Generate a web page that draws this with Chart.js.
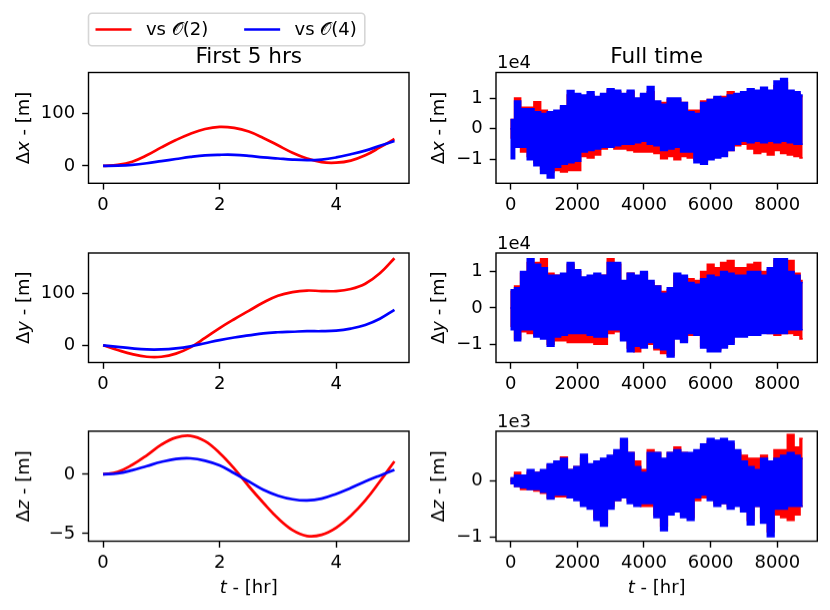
<!DOCTYPE html>
<html>
<head>
<meta charset="utf-8">
<script src="https://cdn.jsdelivr.net/npm/chart.js@4"></script>
<style>
  html, body { margin: 0; background: #fff; }
  body { position: relative; width: 830px; height: 610px; overflow: hidden; }
  .panel { position: absolute; }
</style>
</head>
<body>
<script>
// first 5 hours, sampled every 0.25 hr
const tShort = [0, 0.25, 0.5, 0.75, 1, 1.25, 1.5, 1.75, 2, 2.25, 2.5, 2.75, 3, 3.25, 3.5, 3.75, 4, 4.25, 4.5, 4.75, 5];
const dxShortO2 = [0, 2, 8, 20, 35, 49, 61, 70, 74, 72, 65, 53, 39, 25, 14, 7, 6, 10, 20, 35, 51];
const dxShortO4 = [0, 0.5, 2, 5, 9, 13, 17, 20, 21, 21, 19, 16, 14, 12, 11, 12, 16, 22, 29, 38, 47];
const dyShortO2 = [0, -9, -17, -22, -22, -16, -4, 14, 33, 50, 66, 82, 95, 102, 105, 104, 104, 108, 118, 138, 167];
const dyShortO4 = [0, -3, -6, -8, -8, -6, -2, 4, 10, 15, 19, 23, 25, 26, 27, 27, 28, 32, 39, 51, 68];
const dzShortO2 = [0, 0.2, 0.8, 1.6, 2.5, 3.1, 3.25, 2.8, 1.8, 0.5, -1.0, -2.4, -3.7, -4.7, -5.2, -5.1, -4.5, -3.5, -2.2, -0.6, 1.1];
const dzShortO4 = [0, 0.08, 0.35, 0.7, 1.05, 1.3, 1.35, 1.15, 0.75, 0.1, -0.6, -1.3, -1.8, -2.1, -2.2, -2.05, -1.65, -1.15, -0.6, -0.1, 0.38];

// full year: upper / lower edge of the oscillation band
// dx, dy in units of 1e4 m, dz in units of 1e3 m
const tFull = [0, 40, 200, 400, 600, 800, 1000, 1200, 1400, 1600, 1800, 2000, 2200, 2400, 2600, 2800, 3000, 3200, 3400, 3600, 3800, 4000, 4200, 4400, 4600, 4800, 5000, 5200, 5400, 5600, 5800, 6000, 6200, 6400, 6600, 6800, 7000, 7200, 7400, 7600, 7800, 8000, 8200, 8400, 8600, 8760];
const dxFullO4Hi = [0, 0.3, 0.9, 0.65, 0.65, 0.55, 0.5, 0.55, 0.6, 0.75, 1.24, 1.15, 1.1, 1.2, 1.05, 1.15, 1.3, 1.25, 1.15, 1.25, 1.0, 1.15, 1.37, 0.9, 0.8, 1.0, 1.0, 0.85, 0.55, 0.5, 0.85, 0.95, 1.05, 1.0, 1.1, 1.15, 1.2, 1.3, 1.25, 1.35, 1.25, 1.55, 1.63, 1.25, 1.2, 1.1];
const dxFullO4Lo = [0, -0.97, -0.6, -0.6, -1.0, -1.2, -1.45, -1.6, -1.25, -1.15, -1.1, -1.05, -0.75, -0.7, -0.65, -0.6, -0.6, -0.55, -0.5, -0.5, -0.45, -0.4, -0.5, -0.55, -0.7, -0.65, -0.6, -0.75, -0.75, -1.1, -1.15, -1.0, -0.95, -0.9, -0.7, -0.5, -0.4, -0.45, -0.4, -0.45, -0.4, -0.45, -0.4, -0.45, -0.5, -0.5];
const dxFullO2Hi = [0, 0.3, 1.0, 0.7, 0.7, 0.88, 0.6, 0.5, 0.55, 0.7, 1.1, 1.1, 1.05, 1.1, 1.0, 1.1, 1.25, 1.2, 1.1, 1.2, 0.95, 1.1, 1.2, 0.85, 0.85, 0.95, 0.95, 0.85, 0.6, 0.6, 0.9, 0.95, 1.0, 1.05, 1.2, 1.1, 1.1, 1.2, 1.2, 1.25, 1.2, 1.4, 1.5, 1.2, 1.15, 1.05];
const dxFullO2Lo = [0, -0.3, -0.6, -0.75, -0.9, -1.1, -1.3, -1.4, -1.35, -1.4, -1.35, -1.35, -0.9, -0.95, -0.85, -0.65, -0.6, -0.65, -0.65, -0.7, -0.75, -0.75, -0.75, -0.8, -0.97, -0.9, -1.0, -0.9, -0.95, -1.0, -1.05, -0.95, -0.9, -0.85, -0.7, -0.55, -0.5, -0.65, -0.8, -0.75, -0.85, -0.7, -0.8, -0.85, -0.9, -0.95];
const dyFullO4Hi = [0, 0.5, 0.55, 1.0, 1.35, 1.2, 1.1, 0.9, 0.9, 0.95, 1.25, 1.05, 0.85, 0.9, 0.95, 0.9, 1.25, 1.25, 0.75, 0.95, 0.9, 1.0, 0.75, 0.6, 0.4, 0.55, 0.95, 0.9, 0.7, 0.65, 0.8, 0.9, 0.85, 1.0, 0.95, 0.9, 0.9, 1.0, 1.0, 0.9, 1.1, 1.35, 1.35, 1.0, 0.9, 0.7];
const dyFullO4Lo = [0, -0.6, -0.9, -0.6, -0.6, -0.8, -0.85, -1.05, -0.8, -0.75, -0.7, -0.7, -0.7, -0.75, -0.8, -0.8, -0.6, -0.6, -0.9, -1.2, -1.05, -1.1, -0.95, -1.1, -1.15, -1.35, -0.85, -0.95, -0.7, -0.75, -1.1, -1.2, -1.2, -1.1, -1.0, -0.8, -0.8, -0.75, -0.75, -0.7, -0.7, -0.7, -0.7, -0.6, -0.6, -0.6];
const dyFullO2Hi = [0, 0.45, 0.6, 0.95, 1.25, 1.25, 1.35, 0.95, 0.9, 0.9, 1.2, 1.0, 0.8, 0.85, 0.9, 0.9, 1.35, 1.2, 0.7, 0.95, 0.85, 0.95, 0.7, 0.6, 0.45, 0.5, 0.9, 0.85, 0.8, 0.75, 1.0, 1.2, 1.1, 1.25, 1.3, 1.1, 1.1, 1.2, 1.25, 1.0, 1.05, 1.3, 1.3, 1.3, 0.95, 0.75];
const dyFullO2Lo = [0, -0.5, -0.85, -0.65, -0.7, -0.75, -0.8, -1.0, -0.9, -0.9, -0.95, -0.95, -0.95, -0.95, -1.0, -1.0, -0.7, -0.65, -0.85, -1.1, -1.2, -1.0, -1.0, -1.15, -1.25, -1.3, -0.8, -0.9, -0.75, -0.7, -1.05, -1.1, -1.15, -1.05, -0.95, -0.75, -0.75, -0.7, -0.7, -0.65, -0.7, -0.75, -0.7, -0.7, -0.75, -0.85];
const dzFullO4Hi = [0, 0.05, 0.1, 0.1, 0.2, 0.15, 0.2, 0.3, 0.35, 0.4, 0.2, 0.25, 0.47, 0.3, 0.35, 0.4, 0.45, 0.55, 0.75, 0.5, 0.25, 0.15, 0.5, 0.5, 0.4, 0.5, 0.55, 0.5, 0.5, 0.55, 0.65, 0.75, 0.72, 0.75, 0.7, 0.55, 0.35, 0.25, 0.2, 0.4, 0.35, 0.4, 0.45, 0.5, 0.45, 0.4];
const dzFullO4Lo = [0, -0.05, -0.1, -0.12, -0.15, -0.15, -0.2, -0.32, -0.25, -0.25, -0.3, -0.35, -0.45, -0.5, -0.7, -0.8, -0.5, -0.35, -0.3, -0.4, -0.45, -0.4, -0.4, -0.65, -0.88, -0.6, -0.55, -0.65, -0.7, -0.3, -0.25, -0.35, -0.45, -0.4, -0.5, -0.45, -0.55, -0.78, -0.45, -0.75, -0.99, -0.5, -0.5, -0.45, -0.45, -0.45];
const dzFullO2Hi = [0, 0.05, 0.15, 0.1, 0.15, 0.15, 0.18, 0.28, 0.3, 0.42, 0.2, 0.25, 0.4, 0.28, 0.3, 0.35, 0.4, 0.5, 0.7, 0.5, 0.35, 0.2, 0.55, 0.5, 0.35, 0.5, 0.6, 0.5, 0.45, 0.5, 0.6, 0.7, 0.7, 0.7, 0.65, 0.5, 0.45, 0.4, 0.4, 0.45, 0.35, 0.55, 0.55, 0.82, 0.6, 0.75];
const dzFullO2Lo = [0, -0.05, -0.1, -0.15, -0.15, -0.18, -0.22, -0.3, -0.28, -0.28, -0.3, -0.3, -0.4, -0.45, -0.65, -0.75, -0.45, -0.35, -0.3, -0.35, -0.4, -0.45, -0.45, -0.6, -0.8, -0.55, -0.5, -0.6, -0.65, -0.35, -0.3, -0.3, -0.4, -0.4, -0.45, -0.4, -0.5, -0.7, -0.45, -0.65, -0.9, -0.6, -0.65, -0.7, -0.6, -0.45];

// tick labels
const xTicksShort = [0, 2, 4];
const xTicksFull = [0, 2000, 4000, 6000, 8000];
const yTicksShortXY = [0, 100];
const yTicksShortZ = [-5, 0];
const yTicksFullXY = [-1, 0, 1];
const yTicksFullZ = [-1, 0];

const labelO2 = 'vs \u{1D4AA}(2)';
const labelO4 = 'vs \u{1D4AA}(4)';
const RED = '#ff0000';
const BLUE = '#0000ff';
const FAMILY = '"DejaVu Sans", sans-serif';

Chart.defaults.font.family = FAMILY;
Chart.defaults.font.size = 18;
Chart.defaults.color = '#000';

const pts = (xs, ys) => xs.map((x, i) => ({ x: x, y: ys[i] }));
const minus = v => String(v).replace('-', '\u2212');

// draws text made of [text, style] pieces centred on (x, y)
function drawPieces(ctx, pieces, x, y, angle) {
  ctx.save();
  ctx.translate(x, y);
  ctx.rotate(angle);
  ctx.textAlign = 'left';
  ctx.textBaseline = 'alphabetic';
  let total = 0;
  pieces.forEach(p => { ctx.font = p[1] + ' 18px ' + FAMILY; total += ctx.measureText(p[0]).width; });
  let cx = -total / 2;
  pieces.forEach(p => {
    ctx.font = p[1] + ' 18px ' + FAMILY;
    ctx.fillText(p[0], cx, 0);
    cx += ctx.measureText(p[0]).width;
  });
  ctx.restore();
}

// matplotlib-like frame, titles, axis labels and legend
const mplDecor = {
  id: 'mplDecor',
  afterDraw(chart, args, o) {
    const ctx = chart.ctx, a = chart.chartArea;
    ctx.save();
    ctx.strokeStyle = '#000';
    ctx.lineWidth = 1.4;
    ctx.strokeRect(a.left, a.top, a.right - a.left, a.bottom - a.top);
    ctx.fillStyle = '#000';
    if (o.title) {
      ctx.font = '21.6px ' + FAMILY;
      ctx.textAlign = 'center';
      ctx.textBaseline = 'alphabetic';
      ctx.fillText(o.title, (a.left + a.right) / 2, a.top - 9.2);
    }
    if (o.offset) {
      ctx.font = '18px ' + FAMILY;
      ctx.textAlign = 'left';
      ctx.textBaseline = 'alphabetic';
      ctx.fillText(o.offset, a.left + 1, a.top - 4.5);
    }
    if (o.ylabel) drawPieces(ctx, o.ylabel, a.left - o.ylabelGap, (a.top + a.bottom) / 2, -Math.PI / 2);
    if (o.xlabel) drawPieces(ctx, o.xlabel, (a.left + a.right) / 2, a.bottom + 51.2, 0);
    if (o.legend) {
      const x0 = a.left, y0 = a.top - 59.2, h = 32.4, cy = y0 + h / 2;
      ctx.font = '18px ' + FAMILY;
      const items = chart.data.datasets;
      let w = 7;
      items.forEach((d, i) => { w += 36 + 14.4 + ctx.measureText(d.label).width + (i < items.length - 1 ? 36 : 0); });
      w += 8;
      ctx.beginPath();
      ctx.roundRect(x0, y0, w, h, 3.5);
      ctx.fillStyle = 'rgba(255,255,255,0.8)';
      ctx.fill();
      ctx.strokeStyle = '#d6d6d6';
      ctx.lineWidth = 1.6;
      ctx.stroke();
      let px = x0 + 7;
      items.forEach(d => {
        ctx.strokeStyle = d.borderColor;
        ctx.lineWidth = 2.7;
        ctx.beginPath();
        ctx.moveTo(px, cy);
        ctx.lineTo(px + 36, cy);
        ctx.stroke();
        ctx.fillStyle = '#000';
        ctx.textAlign = 'left';
        ctx.textBaseline = 'middle';
        ctx.fillText(d.label, px + 50.4, cy + 1);
        px += 50.4 + ctx.measureText(d.label).width + 36;
      });
    }
    ctx.restore();
  }
};

function lineSet(label, xs, ys, color, order) {
  return {
    label: label, data: pts(xs, ys), borderColor: color, backgroundColor: color,
    borderWidth: 2.7, pointRadius: 0, tension: 0.4,
    fill: false, order: order
  };
}

function bandSets(label, xs, hi, lo, color, order) {
  return [
    { label: label, data: pts(xs, hi), borderColor: color, backgroundColor: color,
      borderWidth: 1.6, pointRadius: 0, stepped: 'middle', fill: '+1', order: order },
    { label: label, data: pts(xs, lo), borderColor: color, backgroundColor: color,
      borderWidth: 1.6, pointRadius: 0, stepped: 'middle', fill: false, order: order }
  ];
}

function panel(p) {
  const g = {
    left: p.box.x - p.pad.l, top: p.box.y - p.pad.t,
    width: p.box.w + p.pad.l + p.pad.r, height: p.box.h + p.pad.t + p.pad.b
  };
  const wrap = document.createElement('div');
  wrap.className = 'panel';
  const apply = () => {
    wrap.style.left = g.left + 'px';
    wrap.style.top = g.top + 'px';
    wrap.style.width = g.width + 'px';
    wrap.style.height = g.height + 'px';
  };
  apply();
  const cv = document.createElement('canvas');
  wrap.appendChild(cv);
  document.body.appendChild(wrap);

  const tickGrid = { drawOnChartArea: false, drawTicks: true, tickLength: 6.3, tickWidth: 1.4, tickColor: '#000' };
  const chart = new Chart(cv, {
    type: 'line',
    data: { datasets: p.datasets },
    options: {
      responsive: true,
      maintainAspectRatio: false,
      animation: false,
      events: [],
      layout: { padding: { top: p.pad.t, right: p.pad.r, bottom: 0, left: 0 } },
      plugins: {
        legend: { display: false },
        tooltip: { enabled: false },
        mplDecor: p.decor
      },
      scales: {
        x: {
          type: 'linear', min: p.xMin, max: p.xMax,
          grid: tickGrid, border: { display: false },
          ticks: { padding: 5, maxRotation: 0, autoSkip: false, callback: v => minus(v) },
          afterBuildTicks: s => { s.ticks = p.xTicks.map(v => ({ value: v })); },
          afterFit: s => { s.height = p.pad.b; }
        },
        y: {
          type: 'linear', min: p.yMin, max: p.yMax,
          grid: tickGrid, border: { display: false },
          ticks: { padding: 7, autoSkip: false, callback: v => minus(v) },
          afterBuildTicks: s => { s.ticks = p.yTicks.map(v => ({ value: v })); },
          afterFit: s => { s.width = p.pad.l; }
        }
      }
    },
    plugins: [mplDecor]
  });

  // nudge the wrapper so the plot area lands exactly on the target box
  const a = chart.chartArea;
  g.left += p.pad.l - a.left;
  g.top += p.pad.t - a.top;
  g.width += p.box.w - (a.right - a.left);
  g.height += p.box.h - (a.bottom - a.top);
  apply();
  chart.resize();
  return chart;
}

const COL_L = { x: 88.5, w: 320.5 };
const COL_R = { x: 496, w: 321.3 };
const ROWS = [{ y: 72.5, h: 110.8 }, { y: 252.8, h: 109.5 }, { y: 431.3, h: 109.5 }];
const padL = { l: 88.5, r: 10 };
const padR = { l: 86, r: 10 };
const padRow = [{ t: 72.5, b: 40 }, { t: 40, b: 40 }, { t: 40, b: 69 }];

const yLabX = [['\u0394', ''], ['x', 'italic'], [' - [m]', '']];
const yLabY = [['\u0394', ''], ['y', 'italic'], [' - [m]', '']];
const yLabZ = [['\u0394', ''], ['z', 'italic'], [' - [m]', '']];
const xLabT = [['t', 'italic'], [' - [hr]', '']];

const box = (c, r) => ({ x: c.x, w: c.w, y: r.y, h: r.h });
const pad = (c, r) => ({ l: c.l, r: c.r, t: r.t, b: r.b });

const shortPanels = [
  { o2: dxShortO2, o4: dxShortO4, yMin: -33, yMax: 177, yTicks: yTicksShortXY, ylabel: yLabX },
  { o2: dyShortO2, o4: dyShortO4, yMin: -33, yMax: 177, yTicks: yTicksShortXY, ylabel: yLabY },
  { o2: dzShortO2, o4: dzShortO4, yMin: -5.64, yMax: 3.64, yTicks: yTicksShortZ, ylabel: yLabZ }
];
const fullPanels = [
  { o2: [dxFullO2Hi, dxFullO2Lo], o4: [dxFullO4Hi, dxFullO4Lo], yMin: -1.77, yMax: 1.83, yTicks: yTicksFullXY, ylabel: yLabX, offset: '1e4' },
  { o2: [dyFullO2Hi, dyFullO2Lo], o4: [dyFullO4Hi, dyFullO4Lo], yMin: -1.50, yMax: 1.51, yTicks: yTicksFullXY, ylabel: yLabY, offset: '1e4' },
  { o2: [dzFullO2Hi, dzFullO2Lo], o4: [dzFullO4Hi, dzFullO4Lo], yMin: -1.07, yMax: 0.88, yTicks: yTicksFullZ, ylabel: yLabZ, offset: '1e3' }
];

shortPanels.forEach((s, i) => {
  panel({
    box: box(COL_L, ROWS[i]), pad: pad(padL, padRow[i]),
    datasets: [lineSet(labelO2, tShort, s.o2, RED, 2), lineSet(labelO4, tShort, s.o4, BLUE, 1)],
    xMin: -0.25, xMax: 5.25, xTicks: xTicksShort,
    yMin: s.yMin, yMax: s.yMax, yTicks: s.yTicks,
    decor: {
      title: i === 0 ? 'First 5 hrs' : null,
      legend: i === 0,
      ylabel: s.ylabel, ylabelGap: 59.5,
      xlabel: i === 2 ? xLabT : null
    }
  });
});

fullPanels.forEach((s, i) => {
  const ds = bandSets(labelO4, tFull, s.o4[0], s.o4[1], BLUE, 1)
    .concat(bandSets(labelO2, tFull, s.o2[0], s.o2[1], RED, 2));
  panel({
    box: box(COL_R, ROWS[i]), pad: pad(padR, padRow[i]),
    datasets: ds,
    xMin: -438, xMax: 9198, xTicks: xTicksFull,
    yMin: s.yMin, yMax: s.yMax, yTicks: s.yTicks,
    decor: {
      title: i === 0 ? 'Full time' : null,
      offset: s.offset,
      ylabel: s.ylabel, ylabelGap: 52,
      xlabel: i === 2 ? xLabT : null
    }
  });
});
</script>
</body>
</html>
